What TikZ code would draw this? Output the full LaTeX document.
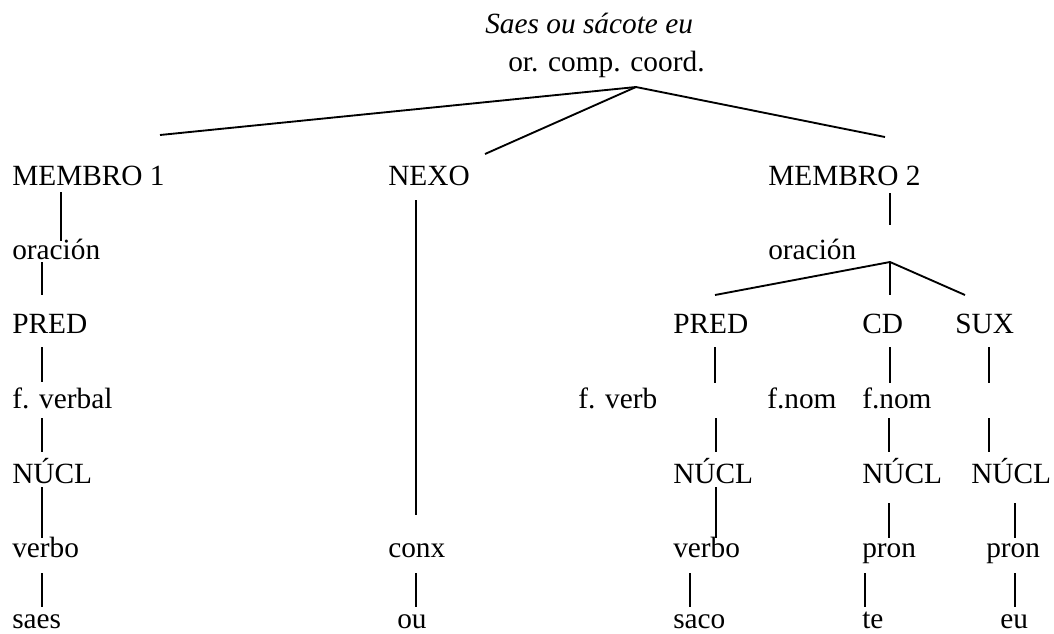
\documentclass[tikz,border=0pt]{standalone}
\usepackage{fontspec}
\setmainfont{Liberation Serif}
\begin{document}
\begin{tikzpicture}[x=0.75pt,y=-0.75pt,
  lbl/.style={anchor=base west,inner sep=0pt,font=\fontsize{22}{26}\selectfont},
  edge/.style={line width=1.4pt,black}]
\useasboundingbox (0,0) rectangle (1054,633);
% nodes
\node[lbl,font=\fontsize{22}{26}\selectfont\itshape] (title) at (485,33) {Saes ou sácote eu};
\node[lbl] (root) at (508,71) {or. comp. coord.};
\node[lbl] (m1) at (12,185) {MEMBRO 1};
\node[lbl] (nexo) at (388,185) {NEXO};
\node[lbl] (m2) at (768,185) {MEMBRO 2};
\node[lbl] (or1) at (12,259) {oración};
\node[lbl] (pred1) at (12,333) {PRED};
\node[lbl] (fv1) at (12,408) {f. verbal};
\node[lbl] (nucl1) at (12,483) {NÚCL};
\node[lbl] (verbo1) at (12,557) {verbo};
\node[lbl] (saes) at (12,628) {saes};
\node[lbl] (conx) at (388,557) {conx};
\node[lbl] (ou) at (397,628) {ou};
\node[lbl] (or2) at (768,259) {oración};
\node[lbl] (pred2) at (673,333) {PRED};
\node[lbl] (cd) at (862,333) {CD};
\node[lbl] (sux) at (955,333) {SUX};
\node[lbl] (fverb) at (578,408) {f. verb};
\node[lbl] (fnom1) at (767,408) {f.nom};
\node[lbl] (fnom2) at (862,408) {f.nom};
\node[lbl] (nucl2) at (673,483) {NÚCL};
\node[lbl] (nucl3) at (862,483) {NÚCL};
\node[lbl] (nucl4) at (971,483) {NÚCL};
\node[lbl] (verbo2) at (673,557) {verbo};
\node[lbl] (pron1) at (862,557) {pron};
\node[lbl] (pron2) at (986,557) {pron};
\node[lbl] (saco) at (673,628) {saco};
\node[lbl] (te) at (862,628) {te};
\node[lbl] (eu) at (1000,628) {eu};
% connector end points
\coordinate (apex1) at (636,87);
\coordinate (m1top) at (160,135);
\coordinate (nexotop) at (485,154);
\coordinate (m2top) at (885,137);
\coordinate (m1b) at (61,192);   \coordinate (or1t) at (61,241);
\coordinate (or1b) at (42,262);  \coordinate (pred1t) at (42,295);
\coordinate (pred1b) at (42,347); \coordinate (fv1t) at (42,382);
\coordinate (fv1b) at (42,418);  \coordinate (nucl1t) at (42,452);
\coordinate (nucl1b) at (42,487); \coordinate (verbo1t) at (42,538);
\coordinate (verbo1b) at (42,573); \coordinate (saest) at (42,607);
\coordinate (nexob) at (416,200); \coordinate (conxt) at (416,515);
\coordinate (conxb) at (416,573); \coordinate (out) at (416,607);
\coordinate (m2b) at (890,193);  \coordinate (or2t) at (890,225);
\coordinate (apex2) at (890,262);
\coordinate (pred2t) at (715,295); \coordinate (cdt) at (890,295); \coordinate (suxt) at (965,295);
\coordinate (pred2b) at (715,347); \coordinate (pred2c) at (715,383);
\coordinate (cdb) at (890,347);   \coordinate (cdc) at (890,383);
\coordinate (suxb) at (989,347);  \coordinate (suxc) at (989,383);
\coordinate (pred2d) at (716,418); \coordinate (nucl2t) at (716,452);
\coordinate (fnom2b) at (889,418); \coordinate (nucl3t) at (889,452);
\coordinate (suxd) at (989,418);  \coordinate (nucl4t) at (989,452);
\coordinate (nucl2b) at (716,487); \coordinate (verbo2t) at (716,538);
\coordinate (nucl3b) at (889,503); \coordinate (pron1t) at (889,538);
\coordinate (nucl4b) at (1015,503); \coordinate (pron2t) at (1015,538);
\coordinate (verbo2b) at (690,573); \coordinate (sacot) at (690,607);
\coordinate (pron1b) at (865,573); \coordinate (tet) at (865,607);
\coordinate (pron2b) at (1015,573); \coordinate (eut) at (1015,607);
% connectors
\draw[edge] (m1top) -- (apex1) -- (m2top);
\draw[edge] (apex1) -- (nexotop);
\draw[edge] (m1b) -- (or1t);
\draw[edge] (or1b) -- (pred1t);
\draw[edge] (pred1b) -- (fv1t);
\draw[edge] (fv1b) -- (nucl1t);
\draw[edge] (nucl1b) -- (verbo1t);
\draw[edge] (verbo1b) -- (saest);
\draw[edge] (nexob) -- (conxt);
\draw[edge] (conxb) -- (out);
\draw[edge] (m2b) -- (or2t);
\draw[edge] (pred2t) -- (apex2) -- (suxt);
\draw[edge] (apex2) -- (cdt);
\draw[edge] (pred2b) -- (pred2c);
\draw[edge] (cdb) -- (cdc);
\draw[edge] (suxb) -- (suxc);
\draw[edge] (pred2d) -- (nucl2t);
\draw[edge] (fnom2b) -- (nucl3t);
\draw[edge] (suxd) -- (nucl4t);
\draw[edge] (nucl2b) -- (verbo2t);
\draw[edge] (nucl3b) -- (pron1t);
\draw[edge] (nucl4b) -- (pron2t);
\draw[edge] (verbo2b) -- (sacot);
\draw[edge] (pron1b) -- (tet);
\draw[edge] (pron2b) -- (eut);
\end{tikzpicture}
\end{document}
